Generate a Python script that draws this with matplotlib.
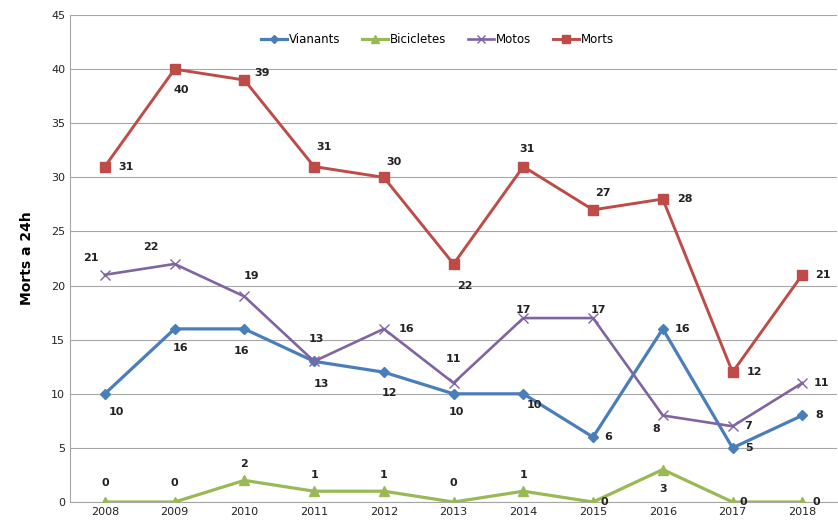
import matplotlib
matplotlib.use('Agg')
import matplotlib.pyplot as plt

years = ["2008", "2009", "2010", "2011", "2012", "2013", "2014", "2015", "2016", "2017", "2018"]
vianants = [10, 16, 16, 13, 12, 10, 10, 6, 16, 5, 8]
bicicletes = [0, 0, 2, 1, 1, 0, 1, 0, 3, 0, 0]
motos = [21, 22, 19, 13, 16, 11, 17, 17, 8, 7, 11]
morts = [31, 40, 39, 31, 30, 22, 31, 27, 28, 12, 21]

# label offsets in points (dx, dy) for each point
off_vianants = [(8, -13), (4, -14), (-2, -16), (5, -16), (4, -15), (2, -13), (8, -8), (11, 0), (14, 0), (12, 0), (12, 0)]
off_bicicletes = [(0, 14), (0, 14), (0, 12), (0, 12), (0, 12), (0, 14), (0, 12), (8, 0), (0, -14), (8, 0), (10, 0)]
off_motos = [(-10, 12), (-17, 12), (5, 15), (2, 16), (16, 0), (0, 17), (0, 6), (4, 6), (-5, -10), (11, 0), (14, 0)]
off_morts = [(15, 0), (5, -15), (13, 5), (7, 14), (7, 11), (8, -16), (3, 13), (7, 12), (16, 0), (16, 0), (15, 0)]

fig = plt.figure(figsize=(8.38, 5.27), dpi=100)
ax = fig.add_axes([0.0835, 0.0474, 0.9155, 0.924])

x = list(range(len(years)))
series = [
    ("Vianants", vianants, "#4a7ebb", "D", 5, 2.3, off_vianants),
    ("Bicicletes", bicicletes, "#98b954", "^", 7, 2.3, off_bicicletes),
    ("Motos", motos, "#8064a2", "x", 7, 1.9, off_motos),
    ("Morts", morts, "#be4b48", "s", 7, 2.1, off_morts),
]
for name, vals, col, mk, ms, lw, offs in series:
    ax.plot(x, vals, color=col, marker=mk, markersize=ms, lw=lw, label=name,
            markeredgewidth=1.0, zorder=3)
    for xi, v, (dx, dy) in zip(x, vals, offs):
        ax.annotate(str(v), (xi, v), xytext=(dx, dy), textcoords="offset points",
                    ha="center", va="center", fontsize=8, fontweight="bold", color="#222222")

ax.set_xlim(-0.5, 10.5)
ax.set_ylim(0, 45)
ax.set_yticks(range(0, 46, 5))
ax.set_xticks(x)
ax.set_xticklabels(years)
ax.tick_params(labelsize=8, length=0, colors="#222222")
ax.grid(axis="y", color="#a6a6a6", lw=0.8)
ax.set_axisbelow(True)
for s in ["top", "right"]:
    ax.spines[s].set_visible(False)
ax.spines["left"].set_color("#a6a6a6")
ax.spines["bottom"].set_color("#a6a6a6")
ax.set_ylabel("Morts a 24h", fontsize=10, fontweight="bold", labelpad=12)

ax.legend(loc="upper center", bbox_to_anchor=(0.479, 0.985), ncol=4, frameon=False,
          fontsize=8.5, handlelength=2.2, columnspacing=1.8, handletextpad=0.2,
          markerscale=0.8)

fig.savefig("out.png", dpi=100)
